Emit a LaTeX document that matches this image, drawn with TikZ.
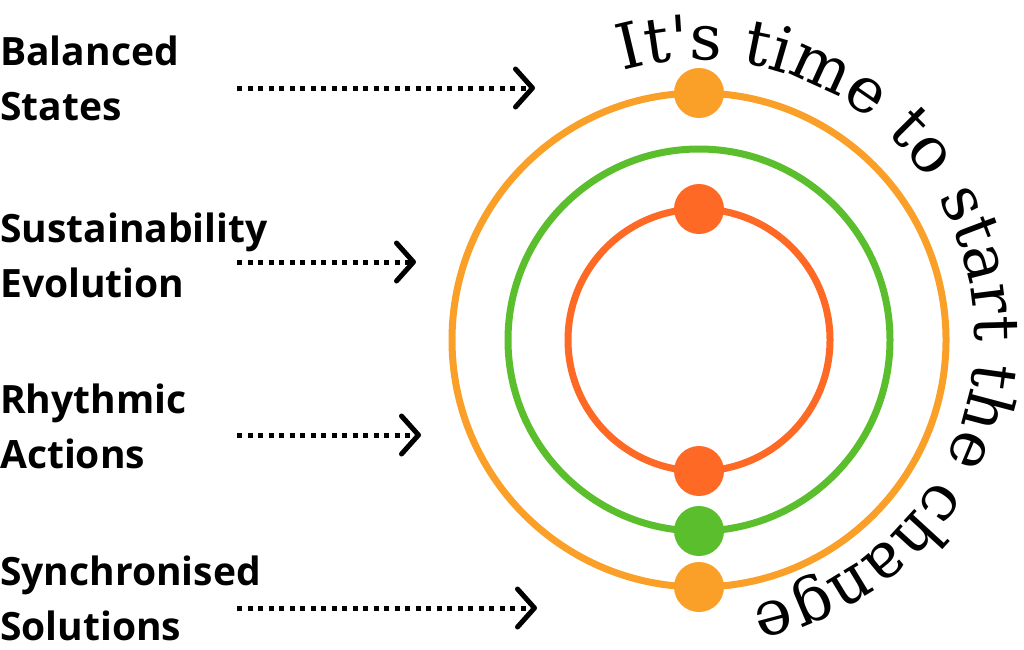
\documentclass[tikz,border=0pt]{standalone}
\usepackage{fontspec}
\newfontfamily\titlefont{DejaVu Serif}
\newfontfamily\labelfont{Open Sans}
\usetikzlibrary{arrows.meta,decorations.text,positioning}

\definecolor{ringorange}{RGB}{250,160,40}
\definecolor{ringred}{RGB}{254,106,38}
\definecolor{ringgreen}{RGB}{90,190,45}

\begin{document}
\begin{tikzpicture}[x=1pt,y=1pt,
  mylabel/.style={anchor=base west,align=left,inner sep=0pt,
    font=\labelfont\bfseries\fontsize{39}{55}\selectfont},
  ring/.style={line width=7pt,draw=#1},
  dot/.style={circle,fill=#1,minimum size=50pt,inner sep=0pt},
  arrow/.style={line width=5pt,dash pattern=on 5pt off 5.5pt,
    -{Straight Barb[length=17pt,width=38pt,round]}}]

  \useasboundingbox (0,0) rectangle (1024,-649);
  \coordinate (c) at (699,-340);
  \coordinate (tc) at (699,-336);

  % the three rings
  \draw[ring=ringorange] (c) circle (247);
  \draw[ring=ringgreen] (c) circle (191);
  \draw[ring=ringred] (c) circle (131);

  \node[dot=ringorange] (otop) at (699,-93) {};
  \node[dot=ringred] (rtop) at (699,-209) {};
  \node[dot=ringred] (rbot) at (699,-471) {};
  \node[dot=ringgreen] (gbot) at (699,-531) {};
  \node[dot=ringorange] (obot) at (699,-587) {};

  % curved title
  \path[decorate,decoration={text along path,text align=left,
    text={|\titlefont\fontsize{63}{63}\selectfont|It's time to start the change}}]
    (tc) ++(106:276) arc[start angle=106,end angle=-90,radius=276];

  % labels, base is the second line
  \node[mylabel] (balanced) at (0,-120) {Balanced\\States};
  \node[mylabel] (sustain) at (0,-297) {Sustainability\\Evolution};
  \node[mylabel] (rhythmic) at (0,-468) {Rhythmic\\Actions};
  \node[mylabel] (synchro) at (0,-640) {Synchronised\\Solutions};

  \coordinate (a1) at (237,-88);  \coordinate (b1) at (535,-88);
  \coordinate (a2) at (237,-262); \coordinate (b2) at (416,-262);
  \coordinate (a3) at (237,-435); \coordinate (b3) at (421,-435);
  \coordinate (a4) at (237,-608); \coordinate (b4) at (537,-608);

  \draw[arrow] (a1) -- (b1);
  \draw[arrow] (a2) -- (b2);
  \draw[arrow] (a3) -- (b3);
  \draw[arrow] (a4) -- (b4);
\end{tikzpicture}
\end{document}
